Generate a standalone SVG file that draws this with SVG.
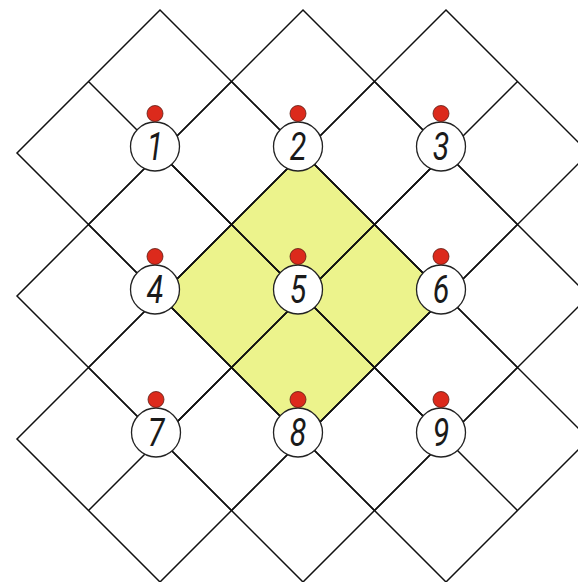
<svg xmlns="http://www.w3.org/2000/svg" width="578" height="582" viewBox="0 0 578 582">
<style>
.bg{fill:#ffffff}
.hl{fill:#ecf38c;stroke:none}
.grid{fill:none;stroke:#111;stroke-width:1.5;stroke-linejoin:miter}
.nc{fill:#ffffff;stroke:#222;stroke-width:1.3}
.dot{fill:#dc2a1c;stroke:#5a1a12;stroke-width:0.8}
.lbl{font-family:Roboto,"Open Sans","Liberation Sans",sans-serif;font-style:italic;font-weight:400;font-size:38px;fill:#1a1a1a;text-anchor:middle}
</style>
<rect class="bg" x="0" y="0" width="578" height="582"/>
<path id="highlight" class="hl" d="M303,153 L446,296 L303,439 L160,296 Z"/>
<g id="connectors" class="grid">
<path d="M160,10 L303,153 L160,296 L17,153 Z M88.5,81.5 L231.5,224.5 M231.5,81.5 L88.5,224.5"/>
<path d="M303,10 L446,153 L303,296 L160,153 Z M231.5,81.5 L374.5,224.5 M374.5,81.5 L231.5,224.5"/>
<path d="M446,10 L589,153 L446,296 L303,153 Z M374.5,81.5 L517.5,224.5 M517.5,81.5 L374.5,224.5"/>
<path d="M160,153 L303,296 L160,439 L17,296 Z M88.5,224.5 L231.5,367.5 M231.5,224.5 L88.5,367.5"/>
<path d="M303,153 L446,296 L303,439 L160,296 Z M231.5,224.5 L374.5,367.5 M374.5,224.5 L231.5,367.5"/>
<path d="M446,153 L589,296 L446,439 L303,296 Z M374.5,224.5 L517.5,367.5 M517.5,224.5 L374.5,367.5"/>
<path d="M160,296 L303,439 L160,582 L17,439 Z M88.5,367.5 L231.5,510.5 M231.5,367.5 L88.5,510.5"/>
<path d="M303,296 L446,439 L303,582 L160,439 Z M231.5,367.5 L374.5,510.5 M374.5,367.5 L231.5,510.5"/>
<path d="M446,296 L589,439 L446,582 L303,439 Z M374.5,367.5 L517.5,510.5 M517.5,367.5 L374.5,510.5"/>
</g>
<g id="node1"><circle class="nc" cx="155" cy="146.5" r="24.5"/><circle class="dot" cx="155" cy="113.5" r="8"/><text class="lbl" transform="translate(155,159.5) scale(0.8,1)">1</text></g>
<g id="node2"><circle class="nc" cx="298" cy="146.5" r="24.5"/><circle class="dot" cx="298" cy="113.5" r="8"/><text class="lbl" transform="translate(298,159.5) scale(0.8,1)">2</text></g>
<g id="node3"><circle class="nc" cx="441" cy="146.5" r="24.5"/><circle class="dot" cx="441" cy="113.5" r="8"/><text class="lbl" transform="translate(441,159.5) scale(0.8,1)">3</text></g>
<g id="node4"><circle class="nc" cx="155" cy="289.5" r="24.5"/><circle class="dot" cx="155" cy="256.5" r="8"/><text class="lbl" transform="translate(155,302.5) scale(0.8,1)">4</text></g>
<g id="node5"><circle class="nc" cx="298" cy="289.5" r="24.5"/><circle class="dot" cx="298" cy="256.5" r="8"/><text class="lbl" transform="translate(298,302.5) scale(0.8,1)">5</text></g>
<g id="node6"><circle class="nc" cx="441" cy="289.5" r="24.5"/><circle class="dot" cx="441" cy="256.5" r="8"/><text class="lbl" transform="translate(441,302.5) scale(0.8,1)">6</text></g>
<g id="node7"><circle class="nc" cx="156" cy="432.5" r="24.5"/><circle class="dot" cx="156" cy="399.5" r="8"/><text class="lbl" transform="translate(156,445.5) scale(0.8,1)">7</text></g>
<g id="node8"><circle class="nc" cx="298" cy="432.5" r="24.5"/><circle class="dot" cx="298" cy="399.5" r="8"/><text class="lbl" transform="translate(298,445.5) scale(0.8,1)">8</text></g>
<g id="node9"><circle class="nc" cx="441" cy="432.5" r="24.5"/><circle class="dot" cx="441" cy="399.5" r="8"/><text class="lbl" transform="translate(441,445.5) scale(0.8,1)">9</text></g>
</svg>
